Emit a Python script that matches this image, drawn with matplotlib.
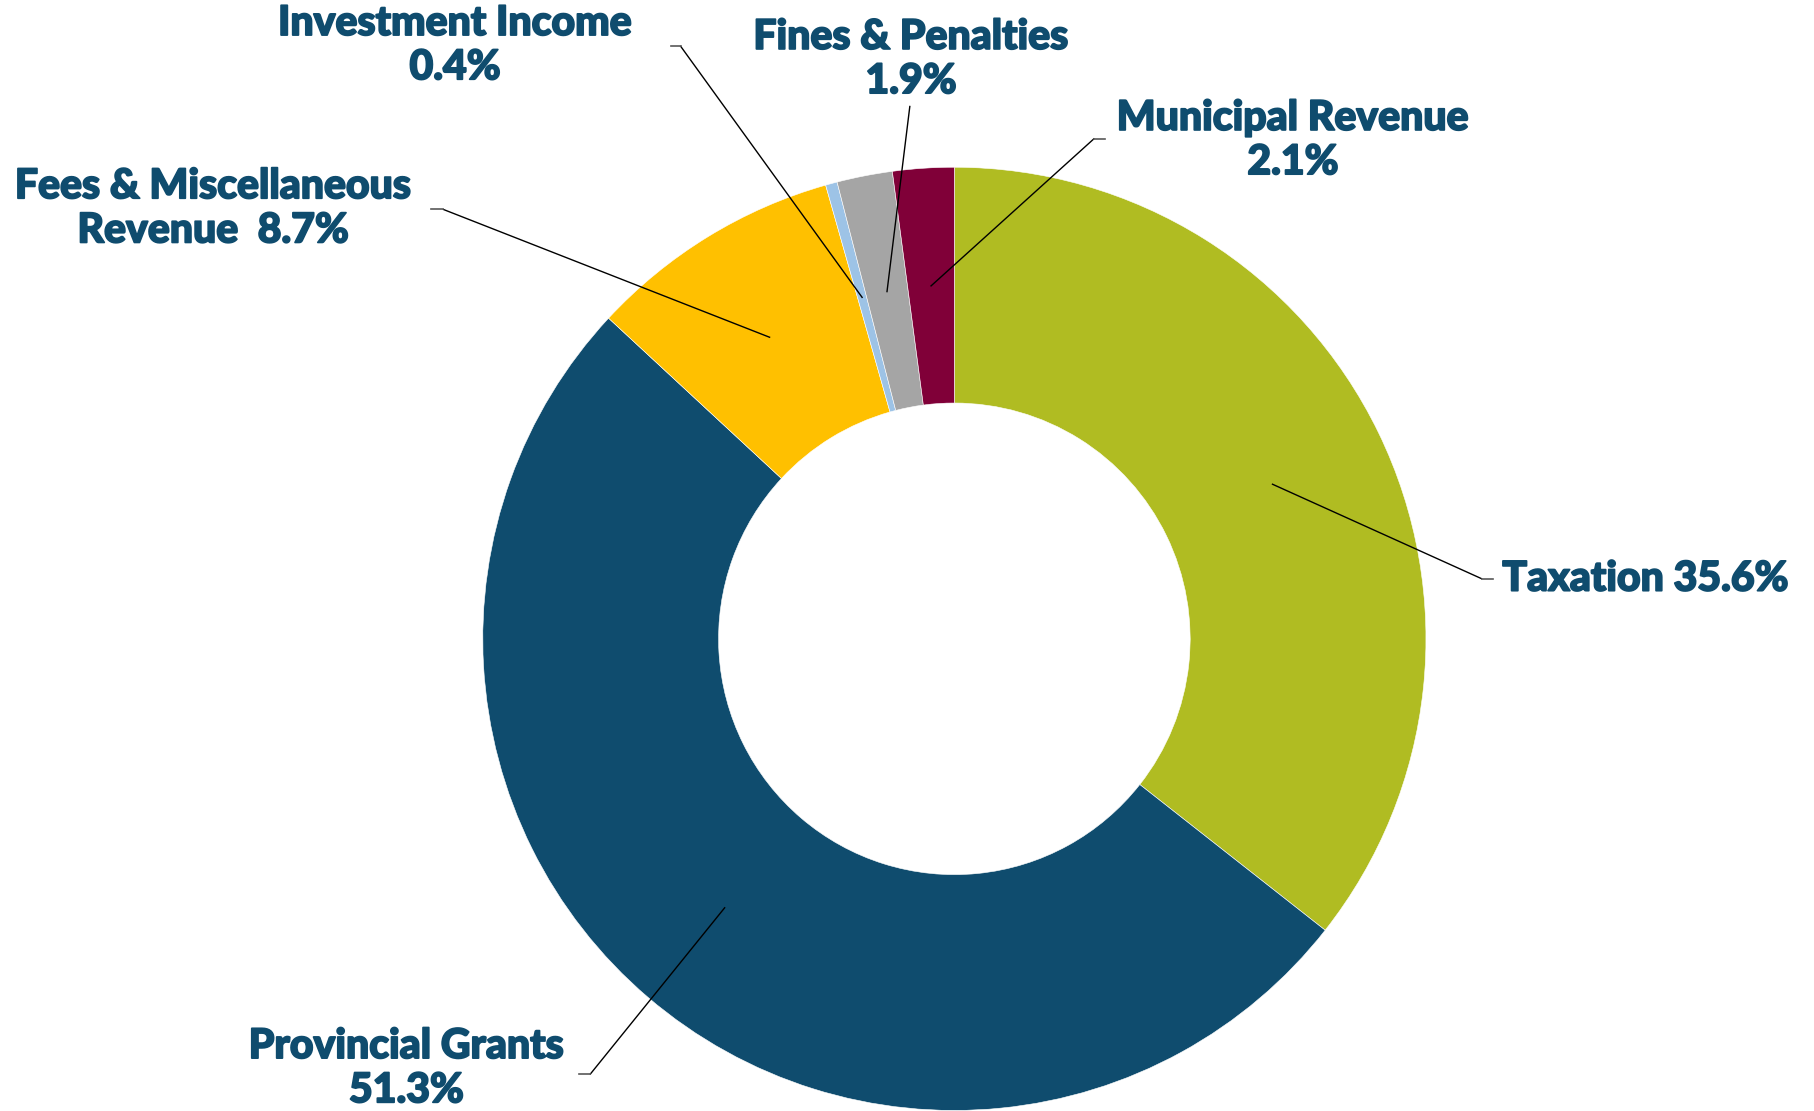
import numpy as np
import matplotlib

matplotlib.use("Agg")
import matplotlib.pyplot as plt  # noqa: E402
import matplotlib.patheffects as pe  # noqa: E402

# ---------- Data ----------
categories = [
    "Taxation",
    "Provincial Grants",
    "Fees & Miscellaneous Revenue",
    "Investment Income",
    "Fines & Penalties",
    "Municipal Revenue",
]
shares = [35.6, 51.3, 8.7, 0.4, 1.9, 2.1]
label_texts = [
    "Taxation 35.6%",
    "Provincial Grants\n51.3%",
    "Fees & Miscellaneous\nRevenue  8.7%",
    "Investment Income\n0.4%",
    "Fines & Penalties\n1.9%",
    "Municipal Revenue\n2.1%",
]

# ---------- Style ----------
COLORS = ["#B0BC22", "#0F4C6E", "#FFC000", "#9DC3E6", "#A5A5A5", "#800038"]
TEXT_COLOR = "#0F4C6E"
FONT = ["Lato", "Open Sans", "DejaVu Sans"]

# Canvas uses a pixel-like coordinate system (origin bottom-left)
W, H = 1568, 960
CENTER = (824.5, 408.0)
RADIUS = 407.5
HOLE = 0.5
ANCHOR_FRAC = 0.75

# label layout: (text x, text y, ha, elbow x, elbow y, stub end x)
LAYOUT = [
    (1298, 460, "left", 1280, 460, 1290),
    (351, 37, "center", 510, 32, 500),
    (184, 780, "center", 383, 779, 372),
    (393, 921, "center", 588, 920, 580),
    (787, 909, "center", 786, 868, 786),
    (1117, 839, "center", 945, 840, 955),
]

fig = plt.figure(figsize=(18.15, 11.11), dpi=100)
ax = fig.add_axes([0, 0, 1, 1])

wedges, _ = ax.pie(
    shares,
    colors=COLORS,
    startangle=90,
    counterclock=False,
    center=CENTER,
    radius=RADIUS,
    wedgeprops=dict(width=RADIUS * HOLE, edgecolor="white", linewidth=0.4),
    frame=True,
)
ax.set_xlim(0, W)
ax.set_ylim(0, H)
ax.set_aspect("equal")
ax.axis("off")

for w, txt, (tx, ty, ha, ex, ey, sx) in zip(wedges, label_texts, LAYOUT):
    mid = np.deg2rad((w.theta1 + w.theta2) / 2)
    axp = CENTER[0] + RADIUS * ANCHOR_FRAC * np.cos(mid)
    ayp = CENTER[1] + RADIUS * ANCHOR_FRAC * np.sin(mid)
    ax.plot([axp, ex], [ayp, ey], color="black", lw=1.0, zorder=5)
    ax.plot([ex, sx], [ey, ey], color="#595959", lw=1.2, zorder=5)
    ax.text(
        tx, ty, txt,
        ha=ha, va="center", multialignment="center",
        fontsize=29.5, fontweight="black", color=TEXT_COLOR,
        family=FONT, linespacing=1.2,
        path_effects=[pe.withStroke(linewidth=1.3, foreground=TEXT_COLOR)],
    )

fig.savefig("out.png", dpi=100, facecolor="white")
